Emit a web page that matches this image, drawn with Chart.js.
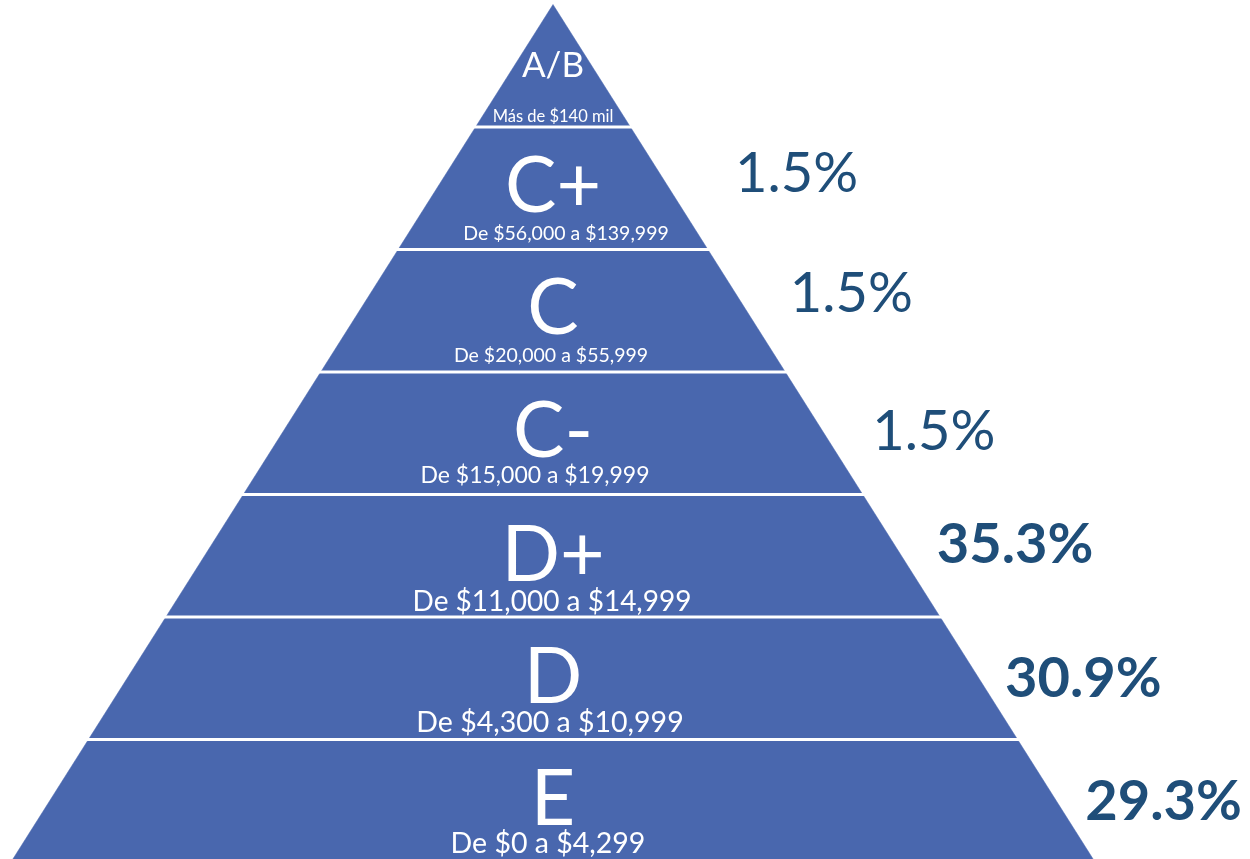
<!DOCTYPE html>
<html>
<head>
<meta charset="utf-8">
<script src="https://cdn.jsdelivr.net/npm/chart.js@4.4.1/dist/chart.umd.min.js"></script>
<style>
  html, body { margin: 0; padding: 0; background: #fff; }
  #wrap { width: 1250px; height: 859px; }
</style>
</head>
<body>
<div id="wrap"><canvas id="pyramid"></canvas></div>
<script>
// niveles socioeconómicos, de arriba hacia abajo
const levels = ["A/B", "C+", "C", "C-", "D+", "D", "E"];
const ranges = [
  "Más de $140 mil",
  "De $56,000 a $139,999",
  "De $20,000 a $55,999",
  "De $15,000 a $19,999",
  "De $11,000 a $14,999",
  "De $4,300 a $10,999",
  "De $0 a $4,299"
];
const shares = [null, 1.5, 1.5, 1.5, 35.3, 30.9, 29.3];

// layout (not data): text sizes and placement
const letterFont = [35, 77, 77, 77, 77, 77, 77];
const letterLift = [0.41, 0.31, 0.31, 0.31, 0.29, 0.30, 0.30];   // baseline above band bottom, band units
const rangeFont = [16.5, 19.5, 19.5, 23, 28, 28.5, 28.5];
const rangeLift = [0.04, 0.08, 0.08, 0.09, 0.05, 0.06, 0.07];
const rangeShift = [0, 13, -2, -18, -1, -3, -5];                 // px
const pctX = [null, 0.336, 0.437, 0.589, 0.708, 0.834, 0.982];  // x units
const pctY = [null, 5.469, 4.49, 3.363, 2.441, 1.347, 0.343];   // y units
const pctBold = [false, false, false, false, true, true, true];

const BLUE = "#4967ae";
const DARK = "#1f4e79";
const FONT = "Lato, 'Noto Sans', sans-serif";
const n = levels.length;
const halfWidth = y => 1 - y / n;

const datasets = [];
levels.forEach((lvl, i) => {
  const y0 = n - 1 - i, y1 = y0 + 1;
  datasets.push({
    label: lvl,
    type: "line",
    data: [
      { x: -halfWidth(y0), y: y0 }, { x: halfWidth(y0), y: y0 },
      { x: halfWidth(y1), y: y1 }, { x: -halfWidth(y1), y: y1 },
      { x: -halfWidth(y0), y: y0 }
    ],
    backgroundColor: BLUE,
    borderColor: BLUE,
    borderWidth: 0.5,
    fill: "shape",
    pointRadius: 0,
    tension: 0,
    order: 2
  });
});
for (let y = 1; y < n; y++) {
  datasets.push({
    label: "sep" + y,
    type: "line",
    data: [{ x: -halfWidth(y) - 0.01, y: y }, { x: halfWidth(y) + 0.01, y: y }],
    borderColor: "#ffffff",
    borderWidth: 3,
    fill: false,
    pointRadius: 0,
    order: 1
  });
}

const pyramidText = {
  id: "pyramidText",
  afterDatasetsDraw(chart) {
    const { ctx, scales: { x, y } } = chart;
    const cx = x.getPixelForValue(0);
    ctx.save();
    ctx.textAlign = "center";
    ctx.textBaseline = "alphabetic";
    ctx.fillStyle = "#ffffff";
    levels.forEach((lvl, i) => {
      const yb = n - 1 - i;
      ctx.font = `${letterFont[i]}px ${FONT}`;
      ctx.fillText(lvl, cx, y.getPixelForValue(yb + letterLift[i]));
      ctx.font = `${rangeFont[i]}px ${FONT}`;
      ctx.fillText(ranges[i], cx + rangeShift[i], y.getPixelForValue(yb + rangeLift[i]));
    });
    ctx.textAlign = "left";
    ctx.fillStyle = DARK;
    shares.forEach((s, i) => {
      if (s === null) return;
      ctx.font = pctBold[i] ? `bold 56px ${FONT}` : `56px ${FONT}`;
      ctx.fillText(s.toFixed(1) + "%", x.getPixelForValue(pctX[i]), y.getPixelForValue(pctY[i]));
    });
    ctx.restore();
  }
};

new Chart(document.getElementById("pyramid"), {
  type: "scatter",
  data: { datasets },
  options: {
    responsive: true,
    maintainAspectRatio: false,
    animation: false,
    layout: { padding: 0 },
    plugins: { legend: { display: false }, tooltip: { enabled: false } },
    scales: {
      x: { type: "linear", display: false, min: -553 / 542, max: 697 / 542 },
      y: { type: "linear", display: false, min: 3 / 122.5, max: 862 / 122.5 }
    }
  },
  plugins: [pyramidText]
});
</script>
</body>
</html>
